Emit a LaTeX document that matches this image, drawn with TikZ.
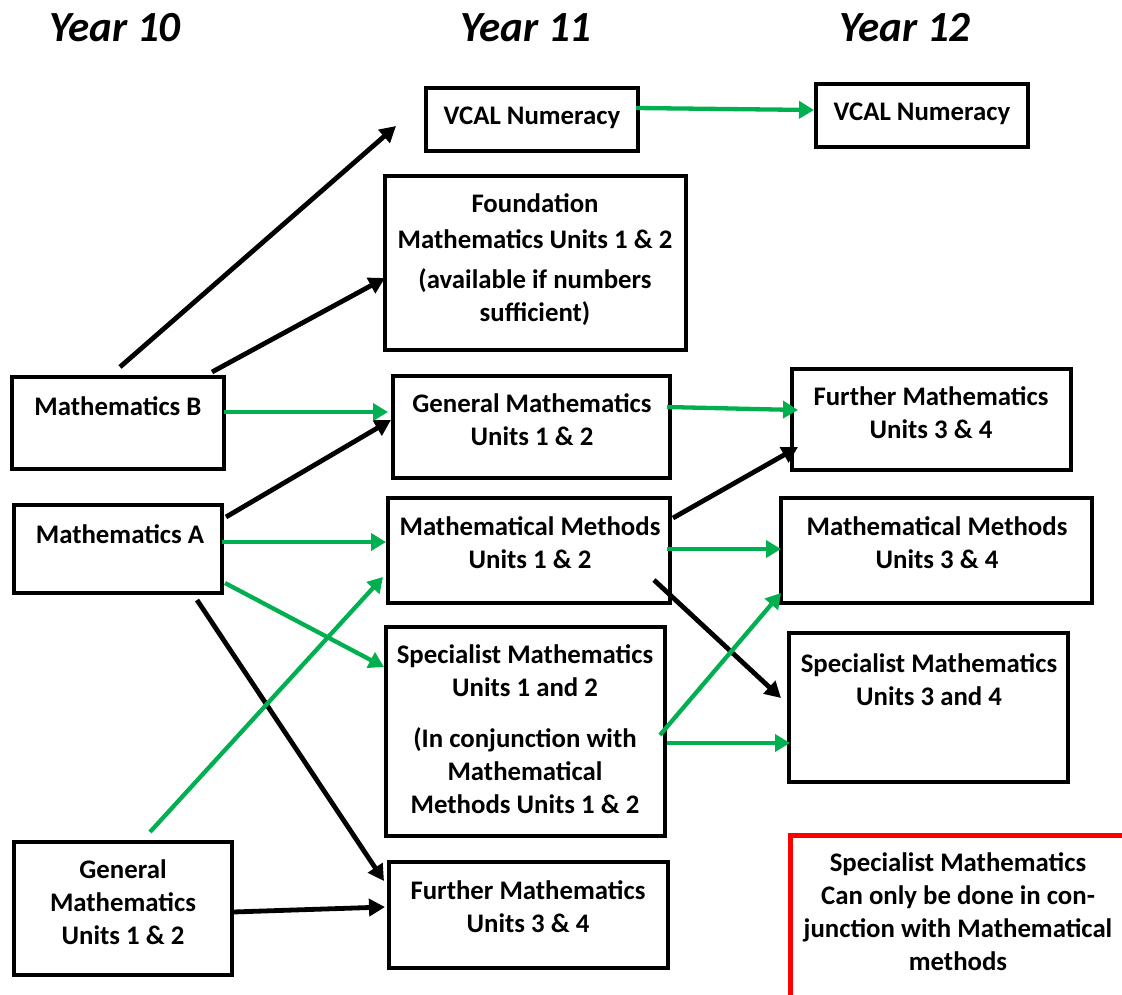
\documentclass[tikz,border=0pt]{standalone}
\usepackage{fontspec}
\setmainfont{Carlito}
\usetikzlibrary{arrows.meta}
\definecolor{mygreen}{HTML}{00B050}
\definecolor{myred}{HTML}{FF0000}
\begin{document}
\begin{tikzpicture}[x=1pt,y=-1pt,
  box/.style={draw=black,line width=4.5pt,inner sep=0pt,outer sep=0pt,anchor=north west},
  txt/.style={font=\fontsize{26.8}{33}\selectfont\bfseries,align=center,inner sep=0pt},
  head/.style={font=\fontsize{43}{50}\selectfont\bfseries\itshape,inner sep=0pt},
  blk/.style={draw=black,line width=4.8pt,-{Triangle[length=16pt,width=17pt]}},
  grn/.style={draw=mygreen,line width=4.3pt,-{Triangle[length=15pt,width=17pt]}}]
\useasboundingbox (0,0) rectangle (1122,994);

% headers
\node[head] (h10) at (115,28) {Year 10};
\node[head] (h11) at (526,28) {Year 11};
\node[head] (h12) at (905,28) {Year 12};

% boxes
\node[box,minimum width=212pt,minimum height=63pt] (vcalA) at (426,88) {};
\node[box,minimum width=212pt,minimum height=63pt] (vcalB) at (816,84) {};
\node[box,minimum width=301pt,minimum height=174pt] (found) at (385,176) {};
\node[box,minimum width=212pt,minimum height=92pt] (mathB) at (12,377) {};
\node[box,minimum width=208pt,minimum height=88pt] (mathA) at (14,505) {};
\node[box,minimum width=277pt,minimum height=102pt] (gen11) at (393,376) {};
\node[box,minimum width=279pt,minimum height=101pt] (fur12) at (792,369) {};
\node[box,minimum width=282pt,minimum height=105pt] (mm11) at (388,498) {};
\node[box,minimum width=311pt,minimum height=105pt] (mm12) at (781,498) {};
\node[box,minimum width=279pt,minimum height=209pt] (sp11) at (386,627) {};
\node[box,minimum width=279pt,minimum height=149pt] (sp12) at (789,633) {};
\node[box,minimum width=218pt,minimum height=133pt] (gen10) at (14,842) {};
\node[box,minimum width=279pt,minimum height=106pt] (fur11) at (389,862) {};
\draw[myred,line width=5pt] (790,1010) |- (1140,835);

% texts
\node[txt] (tvcalA) at (532,118) {VCAL Numeracy};
\node[txt] (tvcalB) at (922,114) {VCAL Numeracy};
\node[txt] (tfound) at (535,260) {Foundation\\[3pt]Mathematics Units 1 \& 2\\[7pt](available if numbers\\sufficient)};
\node[txt] (tmathB) at (118,406) {Mathematics B};
\node[txt] (tmathA) at (120,534) {Mathematics A};
\node[txt] (tgen11) at (532,420) {General Mathematics\\Units 1 \& 2};
\node[txt] (tfur12) at (931,413) {Further Mathematics\\Units 3 \& 4};
\node[txt] (tmm11) at (530,543) {Mathematical Methods\\Units 1 \& 2};
\node[txt] (tmm12) at (937,543) {Mathematical Methods\\Units 3 \& 4};
\node[txt] (tsp11) at (525,729) {Specialist Mathematics\\Units 1 and 2\\[18pt](In conjunction with\\Mathematical\\Methods Units 1 \& 2};
\node[txt] (tsp12) at (929,680) {Specialist Mathematics\\Units 3 and 4};
\node[txt] (tgen10) at (123,902) {General\\Mathematics\\Units 1 \& 2};
\node[txt] (tfur11) at (528,907) {Further Mathematics\\Units 3 \& 4};
\node[txt] (tnote) at (958,912) {Specialist Mathematics\\Can only be done in con-\\junction with Mathematical\\methods};

% arrow endpoints
\coordinate (b1s) at (120,367); \coordinate (b1e) at (396,126);
\coordinate (b2s) at (212,372); \coordinate (b2e) at (385,278);
\coordinate (b3s) at (226,517); \coordinate (b3e) at (391,420);
\coordinate (b4s) at (197,600); \coordinate (b4e) at (384,881);
\coordinate (b5s) at (233,912); \coordinate (b5e) at (385,907);
\coordinate (b6s) at (673,518); \coordinate (b6e) at (798,447);
\coordinate (b7s) at (654,580); \coordinate (b7e) at (781,698);

\coordinate (g1s) at (636,108); \coordinate (g1e) at (814,110);
\coordinate (g2s) at (224,412); \coordinate (g2e) at (388,412);
\coordinate (g3s) at (222,542); \coordinate (g3e) at (386,542);
\coordinate (g4s) at (225,583); \coordinate (g4e) at (384,667);
\coordinate (g5s) at (150,832); \coordinate (g5e) at (383,577);
\coordinate (g6s) at (667,407); \coordinate (g6e) at (798,410);
\coordinate (g7s) at (667,549); \coordinate (g7e) at (781,549);
\coordinate (g8s) at (660,735); \coordinate (g8e) at (781,593);
\coordinate (g9s) at (667,743); \coordinate (g9e) at (790,743);

\draw[blk] (b1s) -- (b1e);
\draw[blk] (b2s) -- (b2e);
\draw[blk] (b3s) -- (b3e);
\draw[blk] (b4s) -- (b4e);
\draw[blk] (b5s) -- (b5e);
\draw[blk] (b6s) -- (b6e);
\draw[blk] (b7s) -- (b7e);

\draw[grn] (g1s) -- (g1e);
\draw[grn] (g2s) -- (g2e);
\draw[grn] (g3s) -- (g3e);
\draw[grn] (g4s) -- (g4e);
\draw[grn] (g5s) -- (g5e);
\draw[grn] (g6s) -- (g6e);
\draw[grn] (g7s) -- (g7e);
\draw[grn] (g8s) -- (g8e);
\draw[grn] (g9s) -- (g9e);
\end{tikzpicture}
\end{document}
